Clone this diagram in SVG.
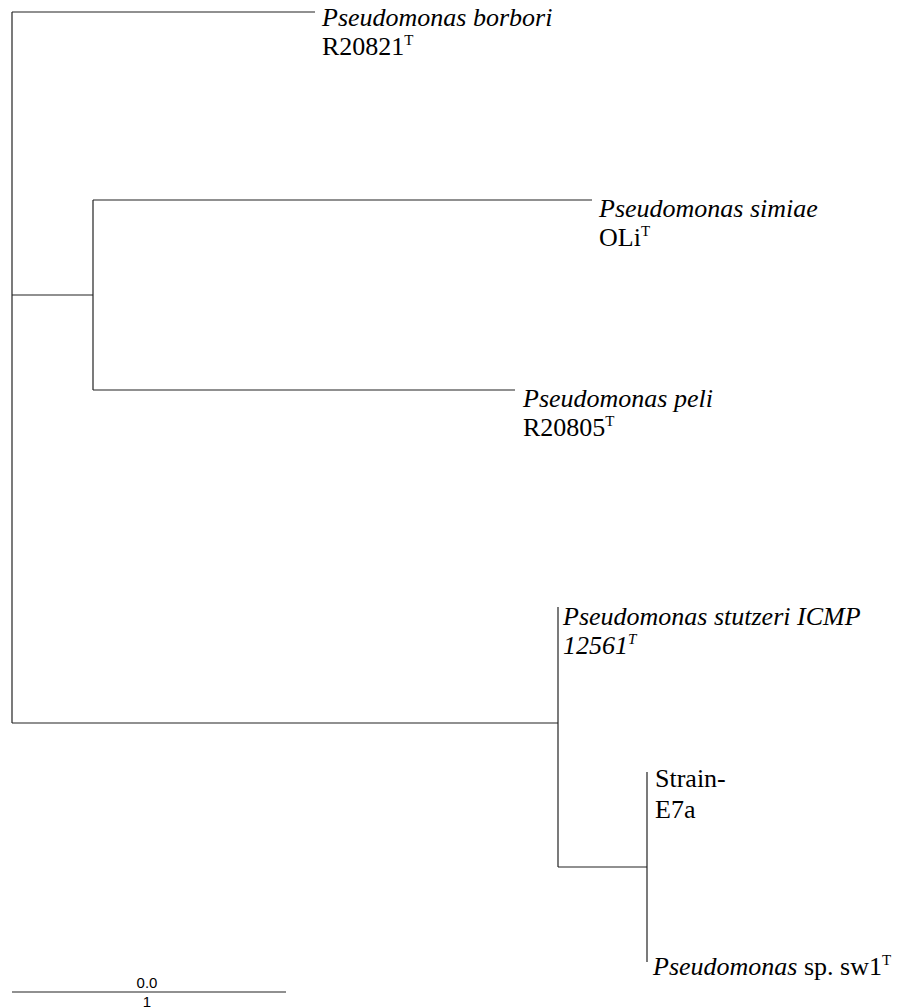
<svg xmlns="http://www.w3.org/2000/svg" width="909" height="1008" viewBox="0 0 909 1008">
<style>
.b{stroke:#222;stroke-width:1.2;fill:none}
.t{font-family:"Liberation Serif","Times New Roman",serif;font-size:26px;fill:#000}
.i{font-style:italic}
.s{font-size:15px}
.sc{font-family:"Liberation Sans",Arial,sans-serif;font-size:15px;fill:#000;text-anchor:middle}
</style>
<rect width="909" height="1008" fill="#fff"/>
<g id="connectors">
<path class="b" d="M12,12 V723"/>
<path class="b" d="M12,12 H315"/>
<path class="b" d="M12,295 H93"/>
<path class="b" d="M93,200 V390"/>
<path class="b" d="M93,200 H592"/>
<path class="b" d="M93,390 H515"/>
<path class="b" d="M12,723 H558"/>
<path class="b" d="M558,607 V867"/>
<path class="b" d="M558,867 H647"/>
<path class="b" d="M647,772 V962"/>
</g>
<g id="borbori"><text class="t i" x="322" y="26">Pseudomonas borbori</text><text class="t" x="322" y="55">R20821<tspan class="s" dy="-10">T</tspan></text></g>
<g id="simiae"><text class="t i" x="599" y="217">Pseudomonas simiae</text><text class="t" x="599" y="246">OLi<tspan class="s" dy="-10">T</tspan></text></g>
<g id="peli"><text class="t i" x="523" y="407">Pseudomonas peli</text><text class="t" x="523" y="436">R20805<tspan class="s" dy="-10">T</tspan></text></g>
<g id="stutzeri"><text class="t i" x="563" y="625">Pseudomonas stutzeri ICMP</text><text class="t i" x="563" y="654">12561<tspan class="s" dy="-10">T</tspan></text></g>
<g id="e7a"><text class="t" x="655" y="787">Strain-</text><text class="t" x="655" y="818">E7a</text></g>
<g id="sw1"><text class="t" x="653" y="975"><tspan class="i">Pseudomonas</tspan> sp. sw1<tspan class="s" dy="-10">T</tspan></text></g>
<g id="scale"><path class="b" d="M12,992 H286"/><text class="sc" x="147" y="988">0.0</text><text class="sc" x="147" y="1007">1</text></g>
</svg>
